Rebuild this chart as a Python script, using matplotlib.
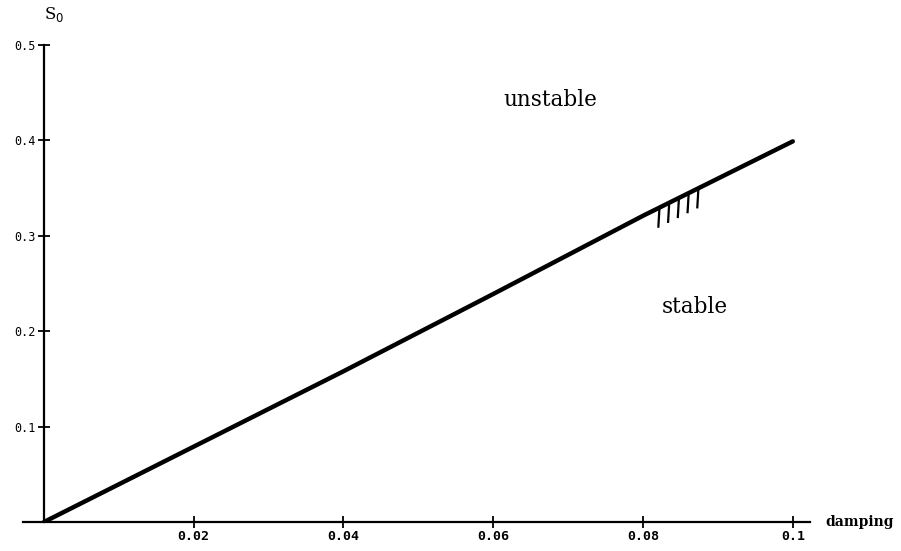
import numpy as np
import matplotlib
matplotlib.use("Agg")
import matplotlib.pyplot as plt

# stability boundary S0 vs damping
damping = [0.0, 0.02, 0.04, 0.06, 0.08, 0.1]
s0 = [0.0, 0.079, 0.158, 0.239, 0.321, 0.399]

x_ticks = [0.02, 0.04, 0.06, 0.08, 0.1]
x_tick_labels = ["0.02", "0.04", "0.06", "0.08", "0.1"]
y_ticks = [0.1, 0.2, 0.3, 0.4, 0.5]
y_tick_labels = ["0.1", "0.2", "0.3", "0.4", "0.5"]

# hatch marks on the stable side of the curve
hatch_x = [0.0822, 0.0835, 0.0848, 0.0861, 0.0874]
hatch_len = 0.02

fig = plt.figure(figsize=(9.01, 5.51), dpi=100)
ax = fig.add_axes([23 / 901, 29 / 551, 787 / 901, 477 / 551])
ax.set_xlim(-0.0028, 0.1023)
ax.set_ylim(0, 0.5)

ax.plot(damping, s0, color="black", lw=3.2, solid_capstyle="round")

for hx in hatch_x:
    hy = np.interp(hx, damping, s0)
    ax.plot([hx, hx - 0.00015], [hy, hy - hatch_len], color="black", lw=1.6)

for side in ["top", "right"]:
    ax.spines[side].set_visible(False)
ax.spines["left"].set_position(("data", 0))
ax.spines["left"].set_linewidth(1.6)
ax.spines["bottom"].set_linewidth(1.6)

ax.set_xticks(x_ticks)
ax.set_xticklabels(x_tick_labels, family="DejaVu Sans Mono", fontsize=9.5,
                   fontweight="bold")
ax.set_yticks(y_ticks)
ax.set_yticklabels(y_tick_labels, family="DejaVu Sans Mono", fontsize=8.5)
ax.tick_params(axis="both", direction="inout", length=8, width=1.3, pad=2)

ax.text(0.0, 0.522, r"S$_0$", fontsize=12, family="DejaVu Serif",
        ha="left", va="bottom")
ax.text(1.02, 0.0, "damping", transform=ax.transAxes, fontsize=10,
        family="DejaVu Serif", fontweight="bold", ha="left", va="center")

ax.text(0.0676, 0.442, "unstable", fontsize=15.5, family="DejaVu Serif",
        ha="center", va="center")
ax.text(0.0869, 0.225, "stable", fontsize=15.5, family="DejaVu Serif",
        ha="center", va="center")

fig.savefig("out.png", dpi=100)
